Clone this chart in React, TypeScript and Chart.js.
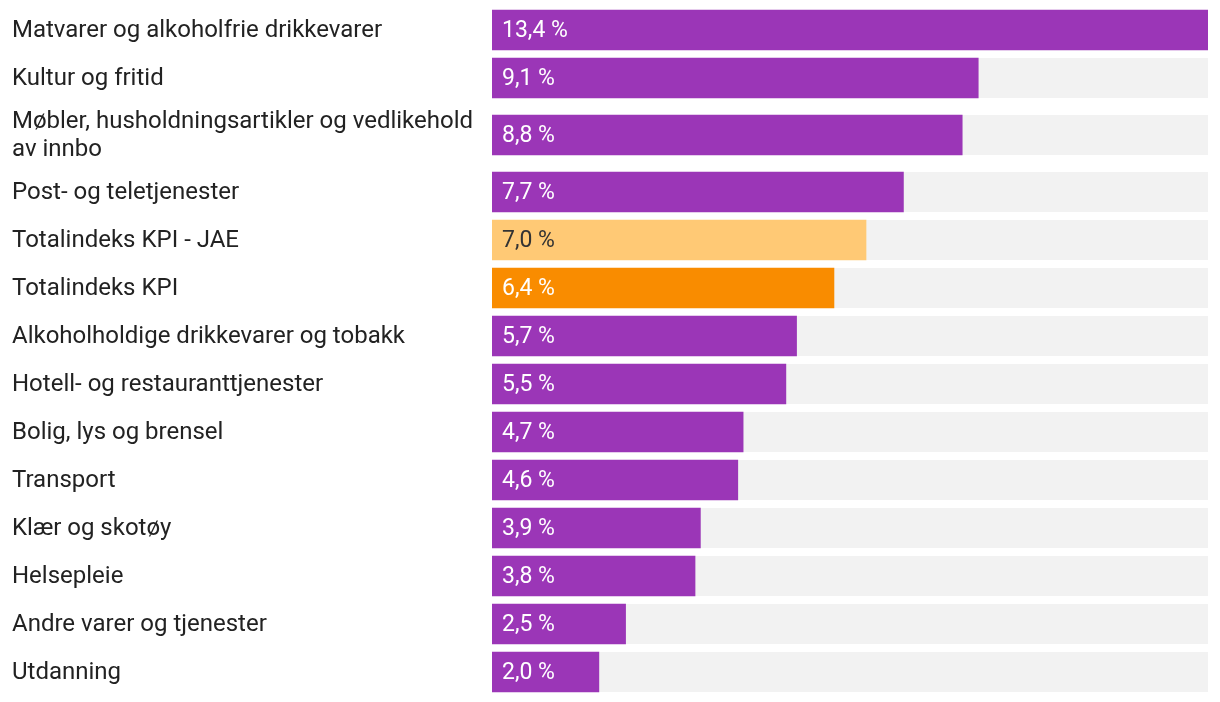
import React, { useEffect, useRef } from "react";
import { Chart, registerables } from "chart.js";

Chart.register(...registerables);

const categories: string[][] = [
  ["Matvarer og alkoholfrie drikkevarer"],
  ["Kultur og fritid"],
  ["Møbler, husholdningsartikler og vedlikehold", "av innbo"],
  ["Post- og teletjenester"],
  ["Totalindeks KPI - JAE"],
  ["Totalindeks KPI"],
  ["Alkoholholdige drikkevarer og tobakk"],
  ["Hotell- og restauranttjenester"],
  ["Bolig, lys og brensel"],
  ["Transport"],
  ["Klær og skotøy"],
  ["Helsepleie"],
  ["Andre varer og tjenester"],
  ["Utdanning"],
];

const values: number[] = [13.4, 9.1, 8.8, 7.7, 7.0, 6.4, 5.7, 5.5, 4.7, 4.6, 3.9, 3.8, 2.5, 2.0];

const kinds: string[] = [
  "group", "group", "group", "group", "jae", "kpi", "group",
  "group", "group", "group", "group", "group", "group", "group",
];

const COLORS: Record<string, string> = {
  group: "#9b36b7",
  jae: "#ffc975",
  kpi: "#f98c00",
};
const TEXT_COLORS: Record<string, string> = {
  group: "#ffffff",
  jae: "#333333",
  kpi: "#ffffff",
};

const EXTRA_PER_LINE = 0.1875;
const LABEL_LINE_HEIGHT = 28;

function rowPositions(): number[] {
  const pos: number[] = [];
  categories.forEach((lines, i) => {
    if (i === 0) {
      pos.push(0);
    } else {
      const prev = categories[i - 1].length - 1;
      const cur = lines.length - 1;
      pos.push(pos[i - 1] + 1 + EXTRA_PER_LINE * (prev + cur));
    }
  });
  return pos;
}

export default function App() {
  const canvasRef = useRef<HTMLCanvasElement | null>(null);

  useEffect(() => {
    const canvas = canvasRef.current;
    if (!canvas) return;
    const positions = rowPositions();
    const lastExtra = EXTRA_PER_LINE * (categories[categories.length - 1].length - 1);

    const trackPlugin = {
      id: "tracks",
      beforeDatasetsDraw(chart: any) {
        const { ctx, chartArea } = chart;
        const meta = chart.getDatasetMeta(0);
        ctx.save();
        ctx.fillStyle = "#f2f2f2";
        meta.data.forEach((bar: any) => {
          const { y, height } = bar.getProps(["y", "height"], true);
          ctx.fillRect(chartArea.left, y - height / 2, chartArea.right - chartArea.left, height);
        });
        ctx.restore();
      },
    };

    const labelPlugin = {
      id: "labels",
      afterDatasetsDraw(chart: any) {
        const { ctx, chartArea } = chart;
        const meta = chart.getDatasetMeta(0);
        ctx.save();
        // category labels on the left
        ctx.font = "400 24px Roboto";
        ctx.textAlign = "left";
        ctx.textBaseline = "middle";
        ctx.fillStyle = "#222222";
        meta.data.forEach((bar: any, i: number) => {
          const { y } = bar.getProps(["y"], true);
          const lines = categories[i];
          const startY = y - ((lines.length - 1) * LABEL_LINE_HEIGHT) / 2;
          lines.forEach((ln, j) => {
            ctx.fillText(ln, 12, startY + j * LABEL_LINE_HEIGHT + 1);
          });
        });
        // value labels inside the bars
        ctx.font = "400 23px Roboto";
        meta.data.forEach((bar: any, i: number) => {
          const { y } = bar.getProps(["y"], true);
          ctx.fillStyle = TEXT_COLORS[kinds[i]];
          const txt = values[i].toFixed(1).replace(".", ",") + " %";
          ctx.fillText(txt, chartArea.left + 10, y + 1);
        });
        ctx.restore();
      },
    };

    const chart = new Chart(canvas, {
      type: "bar",
      data: {
        datasets: [
          {
            data: values.map((v, i) => ({ x: v, y: positions[i] })),
            backgroundColor: kinds.map((k) => COLORS[k]),
            borderWidth: 0,
            barThickness: 40,
          },
        ],
      },
      options: {
        indexAxis: "y",
        animation: false,
        responsive: true,
        maintainAspectRatio: false,
        layout: { padding: { left: 492, right: 12, top: 6, bottom: 6 } },
        plugins: {
          legend: { display: false },
          tooltip: { enabled: false },
        },
        scales: {
          x: {
            type: "linear",
            display: false,
            offset: false,
            min: 0,
            max: Math.max(...values),
          },
          y: {
            type: "linear",
            display: false,
            offset: false,
            reverse: true,
            min: -0.5,
            max: positions[positions.length - 1] + 0.5 + lastExtra,
          },
        },
      },
      plugins: [trackPlugin, labelPlugin],
    } as any);

    return () => chart.destroy();
  }, []);

  return (
    <div style={{ position: "fixed", left: 0, top: 0, width: 1220, height: 702, background: "#ffffff" }}>
      <canvas ref={canvasRef} />
    </div>
  );
}
